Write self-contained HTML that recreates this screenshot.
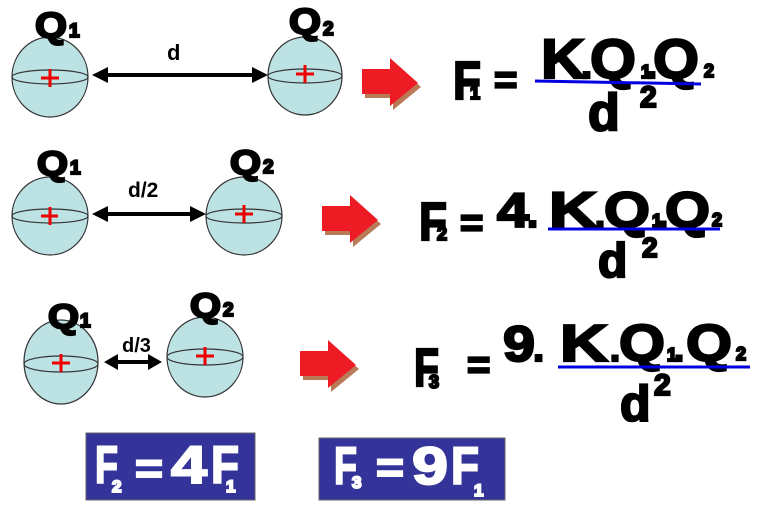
<!DOCTYPE html>
<html><head><meta charset="utf-8"><style>
html,body{margin:0;padding:0;background:#fff;}
svg{display:block}
text{font-family:"Liberation Sans",Arial,sans-serif;font-weight:bold;}
.k{fill:#000;stroke:#000;stroke-width:2.2;}
.w{fill:#fff;stroke:#fff;stroke-width:2;}
.s{fill:#000;}
</style></head><body>
<svg width="775" height="507" viewBox="0 0 775 507" xmlns="http://www.w3.org/2000/svg">
<defs>
<g id="ra"><path d="M0,11 H28 V0 L56,25 L28,48 V36 H0 Z"/></g>
</defs>
<g fill="#bde2e4" stroke="#333" stroke-width="1.2">
<ellipse cx="50" cy="77" rx="38" ry="40"/><ellipse cx="50" cy="77" rx="38" ry="7" fill="none"/>
<ellipse cx="305" cy="76" rx="37" ry="39"/><ellipse cx="305" cy="76" rx="37" ry="7" fill="none"/>
<ellipse cx="50" cy="216" rx="38" ry="39"/><ellipse cx="50" cy="216" rx="38" ry="7" fill="none"/>
<ellipse cx="244" cy="216" rx="38" ry="39"/><ellipse cx="244" cy="216" rx="38" ry="7" fill="none"/>
<ellipse cx="61" cy="362" rx="37" ry="42"/><ellipse cx="61" cy="364" rx="37" ry="8" fill="none"/>
<ellipse cx="205" cy="357" rx="38" ry="40"/><ellipse cx="205" cy="357" rx="38" ry="8" fill="none"/>
</g>
<g stroke="#e00" stroke-width="3">
<path d="M41,78 H59 M50,69 V87"/>
<path d="M296,74 H314 M305,65 V83"/>
<path d="M41,216 H58 M50,207 V225"/>
<path d="M235,214 H253 M244,205 V223"/>
<path d="M52,363 H70 M61,354 V372"/>
<path d="M196,356 H214 M205,347 V365"/>
</g>
<g fill="#000">
<rect x="105" y="73" width="150" height="4"/>
<path d="M92,75 L108,67 L108,83 Z"/><path d="M268,75 L252,67 L252,83 Z"/>
<rect x="105" y="212" width="88" height="4"/>
<path d="M92,214 L108,206 L108,222 Z"/><path d="M206,214 L190,206 L190,222 Z"/>
<rect x="115" y="360" width="35" height="4"/>
<path d="M104,362 L118,354 L118,370 Z"/><path d="M162,362 L148,354 L148,370 Z"/>
</g>
<text x="167" y="60" font-size="22" class="s">d</text>
<text x="128" y="197" font-size="21" class="s">d/2</text>
<text x="122" y="352" font-size="20" class="s">d/3</text>
<text x="35" y="38" font-size="36" class="k" textLength="32" lengthAdjust="spacingAndGlyphs">Q</text><text x="69" y="37" font-size="19" class="k">1</text>
<text x="289" y="34" font-size="36" class="k" textLength="32" lengthAdjust="spacingAndGlyphs">Q</text><text x="323" y="35" font-size="19" class="k">2</text>
<text x="37" y="175" font-size="34" class="k" textLength="31" lengthAdjust="spacingAndGlyphs">Q</text><text x="70" y="174" font-size="19" class="k">1</text>
<text x="230" y="174" font-size="34" class="k" textLength="31" lengthAdjust="spacingAndGlyphs">Q</text><text x="263" y="173" font-size="19" class="k">2</text>
<text x="48" y="328" font-size="34" class="k" textLength="31" lengthAdjust="spacingAndGlyphs">Q</text><text x="80" y="327" font-size="19" class="k">1</text>
<text x="190" y="317" font-size="34" class="k" textLength="31" lengthAdjust="spacingAndGlyphs">Q</text><text x="223" y="316" font-size="19" class="k">2</text>
<use href="#ra" x="365" y="62" fill="#b97a57"/>
<use href="#ra" x="362" y="58" fill="#ed1c24"/>
<use href="#ra" x="325" y="199" fill="#b97a57"/>
<use href="#ra" x="322" y="195" fill="#ed1c24"/>
<use href="#ra" x="303" y="344" fill="#b97a57"/>
<use href="#ra" x="300" y="340" fill="#ed1c24"/>
<!-- formula 1 -->
<text x="453" y="99" font-size="54" class="k" textLength="28" lengthAdjust="spacingAndGlyphs">F</text>
<text x="470" y="99" font-size="18" class="k">1</text>
<text x="494" y="93" font-size="40" class="k">=</text>
<text x="541" y="78" font-size="56" class="k" textLength="44" lengthAdjust="spacingAndGlyphs">K</text>
<text x="581" y="78" font-size="40" class="k">.</text>
<text x="590" y="78" font-size="56" class="k" textLength="46" lengthAdjust="spacingAndGlyphs">Q</text>
<text x="641" y="78" font-size="18" class="k">1</text>
<text x="646" y="78" font-size="40" class="k">.</text>
<text x="653" y="78" font-size="56" class="k" textLength="46" lengthAdjust="spacingAndGlyphs">Q</text>
<text x="704" y="77" font-size="18" class="k">2</text>
<line x1="535" y1="81" x2="701" y2="84" stroke="#0000e0" stroke-width="3"/>
<text x="588" y="130" font-size="52" class="k">d</text>
<text x="640" y="107" font-size="30" class="k">2</text>
<!-- formula 2 -->
<text x="419" y="240" font-size="54" class="k" textLength="28" lengthAdjust="spacingAndGlyphs">F</text>
<text x="437" y="240" font-size="18" class="k">2</text>
<text x="460" y="236" font-size="40" class="k">=</text>
<text x="497" y="227" font-size="48" class="k" textLength="32" lengthAdjust="spacingAndGlyphs">4</text>
<text x="527" y="227" font-size="40" class="k">.</text>
<text x="549" y="227" font-size="50" class="k" textLength="48" lengthAdjust="spacingAndGlyphs">K</text>
<text x="595" y="227" font-size="36" class="k">.</text>
<text x="604" y="227" font-size="50" class="k" textLength="46" lengthAdjust="spacingAndGlyphs">Q</text>
<text x="652" y="227" font-size="18" class="k">1</text>
<text x="658" y="227" font-size="36" class="k">.</text>
<text x="665" y="227" font-size="50" class="k" textLength="45" lengthAdjust="spacingAndGlyphs">Q</text>
<text x="712" y="226" font-size="18" class="k">2</text>
<line x1="548" y1="229" x2="720" y2="229" stroke="#0000e0" stroke-width="3"/>
<text x="598" y="277" font-size="48" class="k">d</text>
<text x="642" y="257" font-size="28" class="k">2</text>
<!-- formula 3 -->
<text x="414" y="386" font-size="54" class="k" textLength="25" lengthAdjust="spacingAndGlyphs">F</text>
<text x="429" y="388" font-size="18" class="k">3</text>
<text x="467" y="378" font-size="40" class="k">=</text>
<text x="503" y="361" font-size="50" class="k" textLength="32" lengthAdjust="spacingAndGlyphs">9</text>
<text x="533" y="361" font-size="40" class="k">.</text>
<text x="560" y="361" font-size="52" class="k" textLength="48" lengthAdjust="spacingAndGlyphs">K</text>
<text x="610" y="361" font-size="36" class="k">.</text>
<text x="619" y="361" font-size="52" class="k" textLength="46" lengthAdjust="spacingAndGlyphs">Q</text>
<text x="667" y="361" font-size="18" class="k">1</text>
<text x="674" y="361" font-size="36" class="k">.</text>
<text x="686" y="361" font-size="52" class="k" textLength="46" lengthAdjust="spacingAndGlyphs">Q</text>
<text x="736" y="360" font-size="18" class="k">2</text>
<line x1="558" y1="367" x2="750" y2="367" stroke="#0000e0" stroke-width="3"/>
<text x="620" y="421" font-size="50" class="k">d</text>
<text x="654" y="395" font-size="30" class="k">2</text>
<!-- boxes -->
<rect x="86" y="433" width="169" height="67" fill="#333399" stroke="#666" stroke-width="1"/>
<text x="95" y="483" font-size="53" class="w" textLength="23" lengthAdjust="spacingAndGlyphs">F</text>
<text x="112" y="492" font-size="17" class="w">2</text>
<text x="135" y="483" font-size="44" class="w" textLength="28" lengthAdjust="spacingAndGlyphs">=</text>
<text x="171" y="483" font-size="53" class="w" textLength="36" lengthAdjust="spacingAndGlyphs">4</text>
<text x="211" y="483" font-size="53" class="w" textLength="28" lengthAdjust="spacingAndGlyphs">F</text>
<text x="226" y="492" font-size="17" class="w">1</text>
<rect x="319" y="438" width="186" height="62" fill="#333399" stroke="#666" stroke-width="1"/>
<text x="334" y="484" font-size="53" class="w" textLength="23" lengthAdjust="spacingAndGlyphs">F</text>
<text x="352" y="488" font-size="17" class="w">3</text>
<text x="376" y="482" font-size="44" class="w" textLength="28" lengthAdjust="spacingAndGlyphs">=</text>
<text x="412" y="484" font-size="53" class="w" textLength="36" lengthAdjust="spacingAndGlyphs">9</text>
<text x="451" y="484" font-size="53" class="w" textLength="28" lengthAdjust="spacingAndGlyphs">F</text>
<text x="474" y="496" font-size="17" class="w">1</text>
</svg>
</body></html>
